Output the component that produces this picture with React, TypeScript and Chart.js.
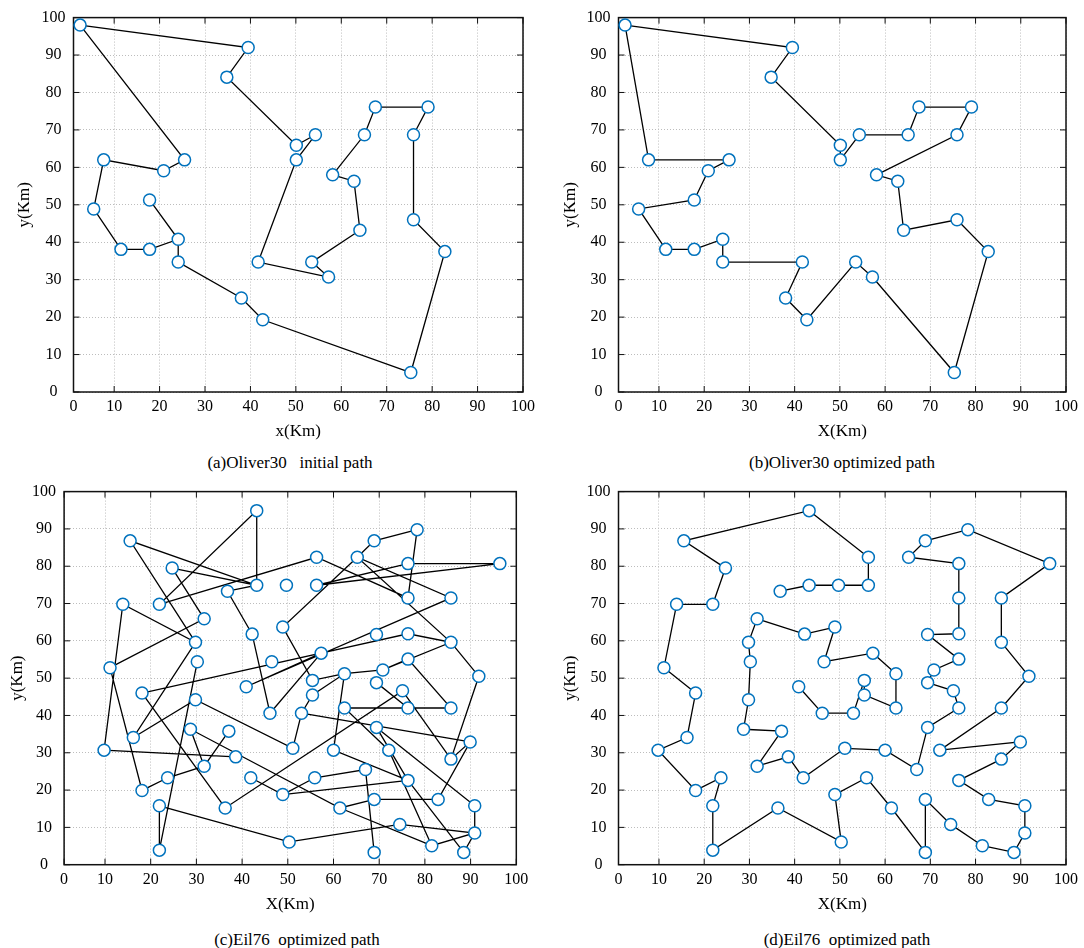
import React, { useEffect, useRef } from 'react';
import { Chart, registerables } from 'chart.js';

Chart.register(...registerables);

const FONT = "'Liberation Serif', 'Times New Roman', serif";

// axis tick values (both axes, all panels)
const tickValues = [0, 10, 20, 30, 40, 50, 60, 70, 80, 90, 100];
// the x frame of the reference starts a little right of x = 0, where the "0" label sits
const xAxisMin = 1.05;

// Oliver30 cities (km)
const oliverX = [2.5, 39.5, 34.8, 50.1, 54.3, 50.1, 41.7, 57.2, 53.5, 64.1, 62.8, 58.1, 65.1, 67.5, 79.1, 75.9, 75.9, 82.8, 75.3, 42.7, 38.0, 24.1, 24.1, 17.8, 11.5, 5.5, 7.7, 20.9, 25.5, 17.8];
const oliverY = [98.0, 92.0, 84.1, 65.9, 68.7, 62.0, 34.7, 30.7, 34.7, 43.2, 56.3, 58.0, 68.7, 76.1, 76.1, 68.7, 46.0, 37.5, 5.2, 19.3, 25.1, 34.7, 40.8, 38.1, 38.1, 48.9, 62.0, 59.1, 62.0, 51.3];

// (a) initial path, (b) optimized path — city indices
const oliverInitialPath = [0, 1, 2, 3, 4, 5, 6, 7, 8, 9, 10, 11, 12, 13, 14, 15, 16, 17, 18, 19, 20, 21, 22, 29, 22, 23, 24, 25, 26, 27, 28, 0];
const oliverOptimizedPath = [0, 1, 2, 3, 5, 4, 12, 13, 14, 15, 11, 10, 9, 16, 17, 18, 7, 8, 19, 20, 6, 21, 22, 23, 24, 25, 29, 27, 28, 26, 0];

// Eil76 cities (km)
const eilX = [36.8, 43.2, 49.7, 56.3, 56.3, 43.2, 15.5, 24.7, 21.9, 13.9, 11.1, 18.1, 16.2, 9.8, 18.1, 23.7, 21.9, 21.9, 36.3, 50.3, 48.9, 55.9, 61.4, 68.9, 68.9, 74.5, 81.5, 88.5, 90.9, 90.9, 82.9, 76.3, 85.7, 89.9, 72.1, 85.7, 91.8, 85.7, 85.7, 96.4, 78.3, 68.9, 65.2, 76.3, 76.3, 76.3, 69.4, 76.3, 70.8, 69.4, 75.1, 76.3, 69.4, 67.0, 60.0, 51.1, 41.9, 38.6, 31.7, 37.1, 28.7, 29.8, 30.2, 29.8, 31.7, 42.2, 48.9, 46.5, 57.3, 62.4, 62.4, 55.4, 55.4, 53.0, 46.1, 40.9];
const eilY = [73.3, 74.9, 74.9, 74.9, 82.4, 94.9, 86.8, 79.5, 69.8, 69.8, 52.8, 46.0, 34.1, 30.7, 19.9, 23.3, 15.8, 3.9, 15.2, 6.1, 18.8, 23.3, 15.2, 3.3, 17.5, 10.8, 5.1, 3.3, 8.5, 15.8, 17.5, 22.6, 28.3, 32.9, 30.7, 42.0, 50.5, 59.6, 71.5, 80.7, 89.8, 86.8, 82.4, 80.7, 71.5, 61.9, 61.7, 55.1, 52.2, 48.8, 46.6, 42.0, 36.8, 25.5, 30.7, 31.2, 23.3, 28.9, 26.4, 35.8, 36.3, 44.2, 54.4, 59.6, 65.9, 61.8, 63.7, 54.4, 56.7, 51.2, 42.0, 45.5, 49.4, 40.6, 40.6, 47.7];

// (c) path segments (-1 = break), (d) optimized path
const eilPathC = [
  57, 13, 9, 63, 6, 1, 5, 8, 4, 44, 40, 41, 42, 66, 72, 69, 71, 73, 55, 61, 12, 63, -1,
  7, 1, 0, 65, 74, 68, 11, 18, 50, 32, 36, 37, 42, 38, 75, 68, 45, 37, 48, 69, 54, 31, 20, 56, -1,
  59, 58, 15, 14, 10, 64, 7, -1,
  58, 60, 22, 24, 30, 33, 32, -1,
  33, 73, -1,
  62, 17, 16, 19, 25, 28, 27, 31, 52, 29, 28, 26, 34, 70, 51, 35, 47, 48, -1,
  51, 49, -1,
  26, 22, -1,
  23, 53, 21, 20, -1,
  39, 43, 3, 39,
];
const eilPathD = [0, 1, 2, 3, 4, 5, 6, 7, 8, 9, 10, 11, 12, 13, 14, 15, 16, 17, 18, 19, 20, 21, 22, 23, 24, 25, 26, 27, 28, 29, 30, 31, 32, 33, 34, 35, 36, 37, 38, 39, 40, 41, 42, 43, 44, 45, 46, 47, 48, 49, 50, 51, 52, 53, 54, 55, 56, 57, 58, 59, 60, 61, 62, 63, 64, 65, 66, 67, 68, 69, 70, 71, 72, 73, 74, 75];

const captions = ['(a)Oliver30   initial path', '(b)Oliver30 optimized path', '(c)Eil76  optimized path', '(d)Eil76  optimized path'];

type PanelCfg = {
  left: number; top: number; width: number; height: number;
  yAxisW: number; xAxisH: number; padT: number; padR: number;
  yTitlePad: number; xTitlePad: number; xTitle: string;
  xs: number[]; ys: number[]; path: number[];
  caption: string; capX: number; capY: number;
};

const framePlugin = {
  id: 'matlabFrame',
  beforeDatasetsDraw(chart: any) {
    const { ctx, chartArea, scales } = chart;
    const { left, right, top, bottom } = chartArea;
    const xs = scales.x, ys = scales.y;
    ctx.save();
    ctx.strokeStyle = '#111';
    ctx.lineWidth = 1;
    ctx.beginPath();
    for (const t of xs.ticks) {
      const px = xs.getPixelForValue(t.value);
      ctx.moveTo(px, bottom); ctx.lineTo(px, bottom - 6);
      ctx.moveTo(px, top); ctx.lineTo(px, top + 6);
    }
    for (const t of ys.ticks) {
      const py = ys.getPixelForValue(t.value);
      ctx.moveTo(left, py); ctx.lineTo(left + 6, py);
      ctx.moveTo(right, py); ctx.lineTo(right - 6, py);
    }
    ctx.stroke();
    ctx.lineWidth = 1.5;
    ctx.strokeRect(left, top, right - left, bottom - top);
    ctx.restore();
  },
};

function Panel({ cfg }: { cfg: PanelCfg }) {
  const ref = useRef<HTMLCanvasElement>(null);
  useEffect(() => {
    if (!ref.current) return;
    const pts = cfg.xs.map((x, i) => ({ x, y: cfg.ys[i] }));
    const line = cfg.path.map((i) => (i < 0 ? { x: null as any, y: null as any } : { x: cfg.xs[i], y: cfg.ys[i] }));
    const tickFont = { family: FONT, size: 16 };
    const titleFont = { family: FONT, size: 17 };
    const chart = new Chart(ref.current, {
      type: 'scatter',
      data: {
        datasets: [
          {
            data: pts,
            showLine: false,
            pointRadius: 6,
            pointHoverRadius: 6,
            pointBorderWidth: 1.5,
            pointBorderColor: '#0072BD',
            pointBackgroundColor: '#ffffff',
            clip: false,
          } as any,
          {
            data: line,
            showLine: true,
            pointRadius: 0,
            pointHoverRadius: 0,
            borderColor: '#000000',
            borderWidth: 1.3,
            spanGaps: false,
            clip: false,
          } as any,
        ],
      },
      options: {
        animation: false,
        responsive: false,
        maintainAspectRatio: false,
        events: [],
        layout: { padding: { left: 0, top: cfg.padT, right: cfg.padR, bottom: 0 } },
        plugins: { legend: { display: false }, tooltip: { enabled: false } },
        scales: {
          x: {
            type: 'linear',
            min: xAxisMin,
            max: 100,
            afterBuildTicks: (s: any) => { s.ticks = tickValues.map((v) => ({ value: v === 0 ? xAxisMin : v })); },
            ticks: {
              color: '#000', font: tickFont, padding: 5, maxRotation: 0, autoSkip: false,
              callback: (v: any) => (v === xAxisMin ? '0' : String(v)),
            },
            grid: { color: '#bdbdbd', lineWidth: 1, drawTicks: false },
            border: { display: false, dash: [1, 2] },
            title: { display: true, text: cfg.xTitle, color: '#000', font: titleFont, padding: { top: 0, bottom: cfg.xTitlePad } },
            afterFit: (s: any) => { s.height = cfg.xAxisH; },
          },
          y: {
            type: 'linear',
            min: 0,
            max: 100,
            afterBuildTicks: (s: any) => { s.ticks = tickValues.map((v) => ({ value: v })); },
            ticks: { color: '#000', font: tickFont, padding: 8, crossAlign: 'center', autoSkip: false },
            grid: { color: '#bdbdbd', lineWidth: 1, drawTicks: false },
            border: { display: false, dash: [1, 2] },
            title: { display: true, text: 'y(Km)', color: '#000', font: titleFont, padding: { top: cfg.yTitlePad, bottom: 0 } },
            afterFit: (s: any) => { s.width = cfg.yAxisW; },
          },
        },
      } as any,
      plugins: [framePlugin],
    });
    return () => chart.destroy();
  }, []);
  return (
    <>
      <canvas
        ref={ref}
        width={cfg.width}
        height={cfg.height}
        style={{ position: 'absolute', left: cfg.left, top: cfg.top, width: cfg.width, height: cfg.height }}
      />
      <div
        style={{
          position: 'absolute', left: cfg.capX - 200, top: cfg.capY - 10, width: 400, height: 20,
          textAlign: 'center', fontFamily: FONT, fontSize: 17, lineHeight: '20px', whiteSpace: 'pre', color: '#000',
        }}
      >
        {cfg.caption}
      </div>
    </>
  );
}

const panels: PanelCfg[] = [
  { left: 0, top: 0, width: 540, height: 450, yAxisW: 73.5, xAxisH: 58, padT: 16.3, padR: 14.3, yTitlePad: 14.8, xTitlePad: 7.8, xTitle: 'x(Km)', xs: oliverX, ys: oliverY, path: oliverInitialPath, caption: captions[0], capX: 290, capY: 463 },
  { left: 545, top: 0, width: 538, height: 450, yAxisW: 73.5, xAxisH: 58, padT: 16.3, padR: 12.3, yTitlePad: 15.8, xTitlePad: 7.8, xTitle: 'X(Km)', xs: oliverX, ys: oliverY, path: oliverOptimizedPath, caption: captions[1], capX: 842, capY: 463 },
  { left: 0, top: 474, width: 540, height: 450, yAxisW: 64.1, xAxisH: 59.3, padT: 16, padR: 23.7, yTitlePad: 7.8, xTitlePad: 8.8, xTitle: 'X(Km)', xs: eilX, ys: eilY, path: eilPathC, caption: captions[2], capX: 297, capY: 940 },
  { left: 545, top: 474, width: 538, height: 450, yAxisW: 73.5, xAxisH: 59.3, padT: 16, padR: 12.3, yTitlePad: 15.8, xTitlePad: 8.8, xTitle: 'X(Km)', xs: eilX, ys: eilY, path: eilPathD, caption: captions[3], capX: 847, capY: 940 },
];

export default function App() {
  return (
    <div style={{ position: 'absolute', left: 0, top: 0, width: 1084, height: 948, background: '#fff', overflow: 'hidden' }}>
      {panels.map((p, i) => (
        <Panel key={i} cfg={p} />
      ))}
    </div>
  );
}
